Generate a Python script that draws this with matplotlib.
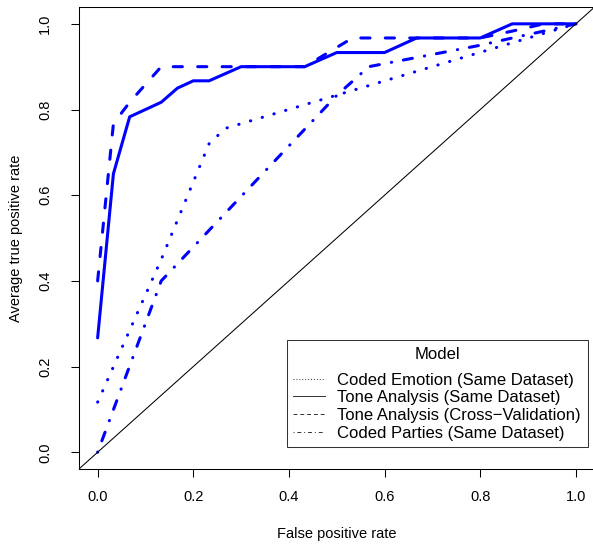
"""ROC curves for tone / emotion / party models."""
import matplotlib
matplotlib.use("Agg")
import matplotlib.pyplot as plt
from matplotlib.lines import Line2D

plt.rcParams["font.family"] = ["Liberation Sans", "DejaVu Sans"]

# averaged ROC points
fpr_emotion = [0.0, 0.133, 0.233, 0.267, 1.0]
tpr_emotion = [0.117, 0.45, 0.72, 0.756, 1.0]

fpr_tone = [0.0, 0.033, 0.067, 0.133, 0.167, 0.2, 0.233, 0.3, 0.433, 0.5, 0.6, 0.667, 0.8, 0.867, 1.0]
tpr_tone = [0.267, 0.65, 0.783, 0.817, 0.85, 0.867, 0.867, 0.9, 0.9, 0.933, 0.933, 0.967, 0.967, 1.0, 1.0]

fpr_tone_cv = [0.0, 0.033, 0.067, 0.133, 0.433, 0.533, 0.8, 0.867, 0.933, 1.0]
tpr_tone_cv = [0.4, 0.767, 0.817, 0.9, 0.9, 0.967, 0.967, 0.983, 1.0, 1.0]

fpr_parties = [0.0, 0.133, 0.5, 0.567, 0.8, 0.867, 0.933, 1.0]
tpr_parties = [0.0, 0.4, 0.833, 0.9, 0.95, 0.967, 0.983, 1.0]

labels = [
    "Coded Emotion (Same Dataset)",
    "Tone Analysis (Same Dataset)",
    "Tone Analysis (Cross\u2212Validation)",
    "Coded Parties (Same Dataset)",
]
# R lty: dotted "13", solid, dashed "44", dotdash "1343" (round caps)
styles = [(0, (0.1, 3.9)), "-", (0, (3, 5)), (0, (0.1, 3.9, 3, 4))]
leg_styles = [(0, (1, 2)), "-", (0, (4, 3)), (0, (1, 3, 4, 3))]
ticks = [0.0, 0.2, 0.4, 0.6, 0.8, 1.0]

W, H = 593, 545
fig = plt.figure(figsize=(W / 100, H / 100), dpi=100)
ax = fig.add_axes([78.5 / W, 75.6 / H, 516.5 / W, 462.7 / H])

series = [
    (fpr_emotion, tpr_emotion),
    (fpr_tone, tpr_tone),
    (fpr_tone_cv, tpr_tone_cv),
    (fpr_parties, tpr_parties),
]
for (x, y), ls in zip(series, styles):
    ax.plot(x, y, color="#0000ff", lw=2.2, linestyle=ls,
            dash_capstyle="round", solid_capstyle="round", solid_joinstyle="round")

ax.axline((0, 0), (1, 1), color="black", lw=0.75)

ax.set_xlim(-0.04, 1.04)
ax.set_ylim(-0.04, 1.04)
ax.set_xticks(ticks)
ax.set_yticks(ticks)
ax.set_xticklabels([f"{t:.1f}" for t in ticks])
ax.set_yticklabels([f"{t:.1f}" for t in ticks], rotation=90, va="center")
ax.tick_params(length=6, width=0.75, labelsize=10.5)
ax.tick_params(axis="x", pad=9)
ax.tick_params(axis="y", pad=13)
for sp in ax.spines.values():
    sp.set_linewidth(0.75)

ax.set_xlabel("False positive rate", fontsize=10.5, labelpad=16.5)
ax.set_ylabel("Average true positive rate", fontsize=10.5, labelpad=11)

handles = [Line2D([], [], color="#333333", lw=0.7, linestyle=ls) for ls in leg_styles]
leg = ax.legend(handles, labels, title="Model", loc="lower right",
                bbox_to_anchor=(0.986, 0.048), fontsize=12, title_fontsize=12,
                frameon=True, fancybox=False, handlelength=1.9, handletextpad=0.75,
                labelspacing=0.16, borderpad=0.4, borderaxespad=0)
leg._legend_box.sep = 7.5  # extra room under the "Model" title
leg.get_frame().set_edgecolor("black")
leg.get_frame().set_linewidth(0.75)

fig.savefig("out.png", dpi=100)
